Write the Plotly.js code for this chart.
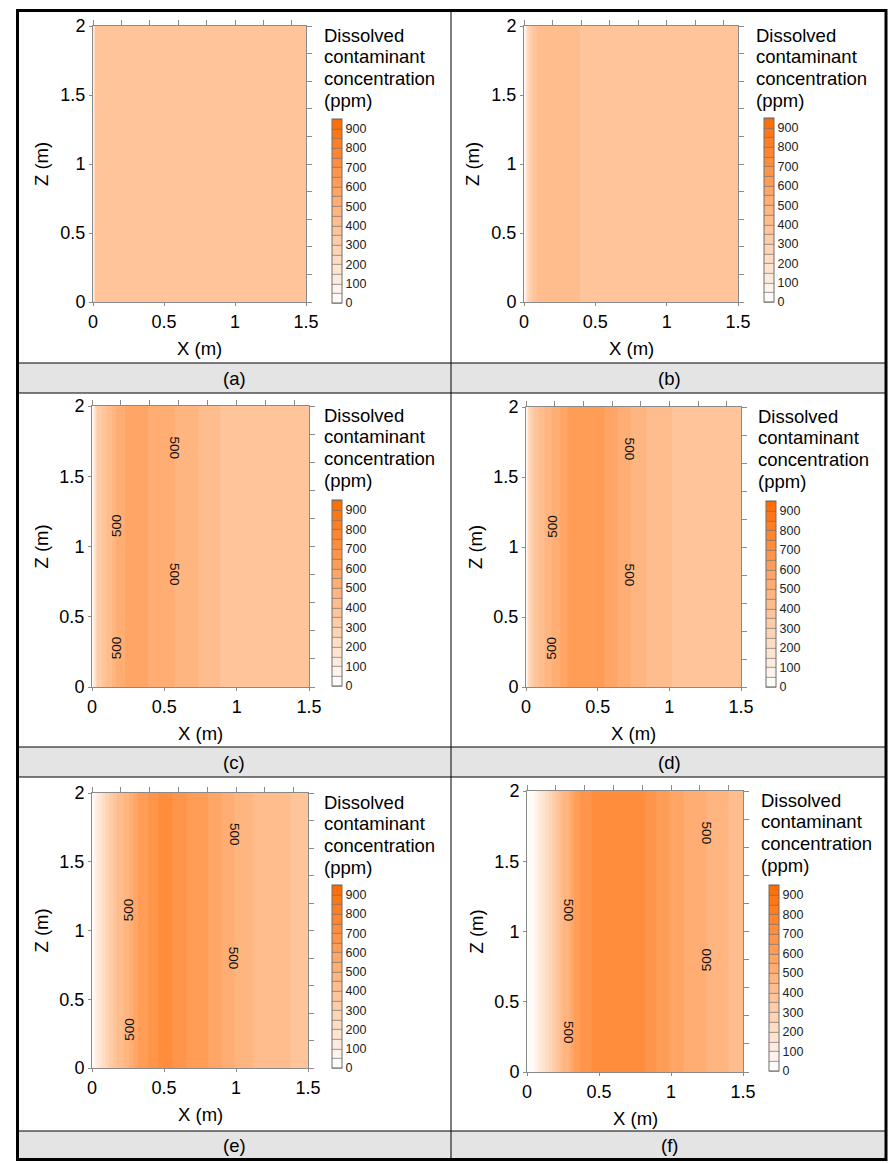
<!DOCTYPE html>
<html><head><meta charset="utf-8">
<script src="https://cdn.plot.ly/plotly-3.0.1.min.js"></script>
<style>html,body{margin:0;padding:0;background:#fff}</style>
</head><body><div id="chart" style="width:893px;height:1163px"></div>
<script>
// ---------------- data ----------------
const zDepths = [0, 2];                       // Z (m): profile is uniform with depth
const xA = [0, 0.01, 0.02, 1.5];
const cA = [10, 250, 390, 390];
const xB = [0, 0.02, 0.05, 0.1, 0.17, 0.25, 0.35, 0.41, 0.5, 1.5];
const cB = [10, 200, 330, 420, 445, 430, 410, 395, 390, 390];
const xC = [0, 0.035, 0.07, 0.1, 0.14, 0.17, 0.23, 0.31, 0.39, 0.59, 0.74, 0.88, 0.95, 1.5];
const cC = [10, 301, 351, 401, 451, 501, 551, 585, 549, 495, 449, 401, 390, 390];
const xD = [0, 0.02, 0.055, 0.09, 0.13, 0.18, 0.24, 0.29, 0.42, 0.55, 0.64, 0.73, 0.84, 1.02, 1.1, 1.5];
const cD = [10, 251, 351, 401, 451, 501, 551, 601, 635, 599, 549, 499, 449, 399, 390, 390];
const xE = [0, 0.03, 0.07, 0.12, 0.17, 0.22, 0.26, 0.32, 0.39, 0.46, 0.51, 0.56, 0.66, 0.81, 0.9, 0.99, 1.12, 1.26, 1.38, 1.5];
const cE = [10, 100, 200, 300, 400, 451, 501, 601, 651, 701, 730, 699, 649, 599, 549, 499, 449, 420, 400, 385];
const xF = [0, 0.05, 0.1, 0.15, 0.2, 0.25, 0.29, 0.33, 0.37, 0.45, 0.6, 0.7, 0.82, 0.9, 0.99, 1.09, 1.25, 1.39, 1.5];
const cF = [10, 50, 150, 250, 350, 451, 501, 601, 651, 701, 745, 745, 699, 649, 599, 549, 499, 451, 440];
const panelLabels = ['(a)', '(b)', '(c)', '(d)', '(e)', '(f)'];
const xTicks = [0, 0.5, 1, 1.5];
const zTicks = [0, 0.5, 1, 1.5, 2];
const cbTicks = [0, 100, 200, 300, 400, 500, 600, 700, 800, 900];
const cbTitleLines = ['Dissolved', 'contaminant', 'concentration', '(ppm)'];
const labelLevel = 500;
// depths (m) at which the 500 ppm contour is labelled: rising side, falling side
const labelDepthsRise = [1.15, 0.28];
const labelDepthsFall = [1.7, 0.8];
// text rotation of those labels per panel: [rise top, rise bottom, fall top, fall bottom]
const labelAngles = [null, null, [-90, -90, 90, 90], [-90, -90, 90, 90], [-90, -90, 90, 90], [90, 90, 90, -90]];

const profiles = [[xA, cA], [xB, cB], [xC, cC], [xD, cD], [xE, cE], [xF, cF]];

// ---------------- geometry (pixels) ----------------
const W = 893, H = 1163;
const boxes = [
  {L: 93,  R: 306, T: 26,  B: 302, cb: 332, cbT: 119, cbB: 303},
  {L: 524, R: 738, T: 26,  B: 302, cb: 764, cbT: 118, cbB: 302},
  {L: 92,  R: 309, T: 406, B: 687, cb: 332, cbT: 500, cbB: 686},
  {L: 526, R: 741, T: 407, B: 687, cb: 766, cbT: 501, cbB: 687},
  {L: 92,  R: 308, T: 793, B: 1068, cb: 332, cbT: 885, cbB: 1068},
  {L: 527, R: 743, T: 791, B: 1072, cb: 769, cbT: 885, cbB: 1071}
];
const colCenters = [234, 669];
const bandCenters = [378, 762, 1145.5];
const px = v => v / W;
const py = v => 1 - v / H;

const FONT = 'Liberation Sans, Arial, sans-serif';
const AX = '#8a8a8a';
const colorscale = [[0, '#ffffff'], [1, '#ff6a00']];

// x positions where a profile crosses a level (linear between samples)
function crossings(xs, cs, level) {
  const out = [];
  for (let k = 0; k < xs.length - 1; k++) {
    const a = cs[k] - level, b = cs[k + 1] - level;
    if (a === 0) { out.push(xs[k]); continue; }
    if (a * b < 0) out.push(xs[k] + (level - cs[k]) / (cs[k + 1] - cs[k]) * (xs[k + 1] - xs[k]));
  }
  return out;
}

const traces = [];
const layout = {
  width: W, height: H, margin: {l: 0, r: 0, t: 0, b: 0},
  paper_bgcolor: '#fff', plot_bgcolor: '#fff', showlegend: false,
  font: {family: FONT, color: '#000'},
  annotations: [], shapes: []
};

profiles.forEach((p, i) => {
  const b = boxes[i];
  const n = i + 1, m = i + 7;
  const xid = n === 1 ? 'x' : 'x' + n, yid = n === 1 ? 'y' : 'y' + n;
  const xo = 'x' + m, yo = 'y' + m;
  const zMat = zDepths.map(() => p[1]);

  traces.push({
    type: 'contour', x: p[0], y: zDepths, z: zMat, xaxis: xid, yaxis: yid,
    zmin: 0, zmax: 950, autocontour: false, colorscale: colorscale,
    contours: {start: 0, end: 950, size: 50, coloring: 'fill', showlines: false},
    line: {width: 0}, showscale: false, hoverinfo: 'skip'
  });
  // invisible copy that carries the colour bar (with level lines)
  traces.push({
    type: 'contour', x: p[0], y: zDepths, z: zMat, xaxis: xo, yaxis: yo,
    zmin: 0, zmax: 950, autocontour: false, colorscale: colorscale, opacity: 0,
    contours: {start: 0, end: 950, size: 50, coloring: 'fill', showlines: true},
    line: {color: '#6e6e6e', width: 0.7}, hoverinfo: 'skip', showscale: true,
    colorbar: {
      x: px(b.cb), xanchor: 'left', xpad: 0, ypad: 0,
      y: py((b.cbT + b.cbB) / 2), yanchor: 'middle',
      len: b.cbB - b.cbT, lenmode: 'pixels', thickness: 10, thicknessmode: 'pixels',
      outlinewidth: 1, outlinecolor: '#6e6e6e',
      tickmode: 'array', tickvals: cbTicks, ticks: '',
      tickfont: {family: FONT, size: 12.5, color: '#222'}
    }
  });

  // 500 ppm contour labels, placed on the contour position derived from the data
  const cr = crossings(p[0], p[1], labelLevel);
  if (cr.length >= 2 && labelAngles[i]) {
    const spots = [[cr[0], labelDepthsRise[0]], [cr[0], labelDepthsRise[1]],
                   [cr[1], labelDepthsFall[0]], [cr[1], labelDepthsFall[1]]];
    spots.forEach((s, k) => {
      layout.annotations.push({xref: xid, yref: yid, x: s[0], y: s[1], text: String(labelLevel),
        textangle: labelAngles[i][k], showarrow: false, xanchor: 'center', yanchor: 'middle',
        font: {family: FONT, size: 13.5, color: '#111'}});
    });
  }

  const xDom = [px(b.L), px(b.R)], yDom = [py(b.B), py(b.T)];
  const base = {showgrid: false, zeroline: false, showline: true, linecolor: AX,
    linewidth: 1, ticks: 'outside', tickcolor: AX, fixedrange: true};
  layout['xaxis' + (n === 1 ? '' : n)] = Object.assign({}, base, {
    domain: xDom, range: [0, 1.5], anchor: yid, tickmode: 'array', tickvals: xTicks,
    ticklen: 3, tickfont: {family: FONT, size: 18, color: '#000'}
  });
  layout['yaxis' + (n === 1 ? '' : n)] = Object.assign({}, base, {
    domain: yDom, range: [0, 2], anchor: xid, tickmode: 'array', tickvals: zTicks,
    ticklen: 3, tickfont: {family: FONT, size: 18, color: '#000'}
  });
  layout['xaxis' + m] = Object.assign({}, base, {
    overlaying: xid, anchor: yo, side: 'top', range: [0, 1.5],
    tick0: 0, dtick: 0.2, ticklen: 5, showticklabels: false
  });
  layout['yaxis' + m] = Object.assign({}, base, {
    overlaying: yid, anchor: xo, side: 'right', range: [0, 2],
    tick0: 0, dtick: 0.2, ticklen: 5, showticklabels: false
  });

  // axis titles
  layout.annotations.push({xref: 'paper', yref: 'paper', x: px((b.L + b.R) / 2), y: py(b.B + 46),
    text: 'X (m)', showarrow: false, xanchor: 'center', yanchor: 'middle',
    font: {family: FONT, size: 18.5, color: '#000'}});
  layout.annotations.push({xref: 'paper', yref: 'paper', x: px(b.L - 51), y: py((b.T + b.B) / 2),
    text: 'Z (m)', textangle: -90, showarrow: false, xanchor: 'center', yanchor: 'middle',
    font: {family: FONT, size: 18.5, color: '#000'}});
  // colour bar title
  cbTitleLines.forEach((t, k) => {
    layout.annotations.push({xref: 'paper', yref: 'paper', x: px(b.cb - 10), y: py(b.T + 9 + k * 21.7),
      text: t, showarrow: false, xanchor: 'left', yanchor: 'middle',
      font: {family: FONT, size: 18.5, color: '#000'}});
  });
  // panel label
  layout.annotations.push({xref: 'paper', yref: 'paper', x: px(colCenters[i % 2]),
    y: py(bandCenters[Math.floor(i / 2)]), text: panelLabels[i], showarrow: false,
    xanchor: 'center', yanchor: 'middle', font: {family: FONT, size: 18.5, color: '#000'}});
});

// frame: grey caption bands, grid lines and thick outer border
const outer = {x0: 17.5, x1: 886, y0: 10.5, y1: 1159.5};
const bands = [[363, 393], [747, 777], [1131, outer.y1]];
bands.forEach(bd => {
  layout.shapes.push({type: 'rect', xref: 'paper', yref: 'paper', layer: 'below',
    x0: px(outer.x0), x1: px(outer.x1), y0: py(bd[1]), y1: py(bd[0]),
    fillcolor: '#e4e4e4', line: {width: 0}});
  layout.shapes.push({type: 'line', xref: 'paper', yref: 'paper',
    x0: px(outer.x0), x1: px(outer.x1), y0: py(bd[0]), y1: py(bd[0]), line: {color: '#000', width: 1}});
  layout.shapes.push({type: 'line', xref: 'paper', yref: 'paper',
    x0: px(outer.x0), x1: px(outer.x1), y0: py(bd[1]), y1: py(bd[1]), line: {color: '#000', width: 1}});
});
layout.shapes.push({type: 'line', xref: 'paper', yref: 'paper',
  x0: px(451), x1: px(451), y0: py(outer.y0), y1: py(outer.y1), line: {color: '#000', width: 1}});
layout.shapes.push({type: 'rect', xref: 'paper', yref: 'paper',
  x0: px(outer.x0), x1: px(outer.x1), y0: py(outer.y1), y1: py(outer.y0),
  line: {color: '#000', width: 3}});

Plotly.newPlot('chart', traces, layout, {staticPlot: true, displayModeBar: false});
</script>
</body></html>
